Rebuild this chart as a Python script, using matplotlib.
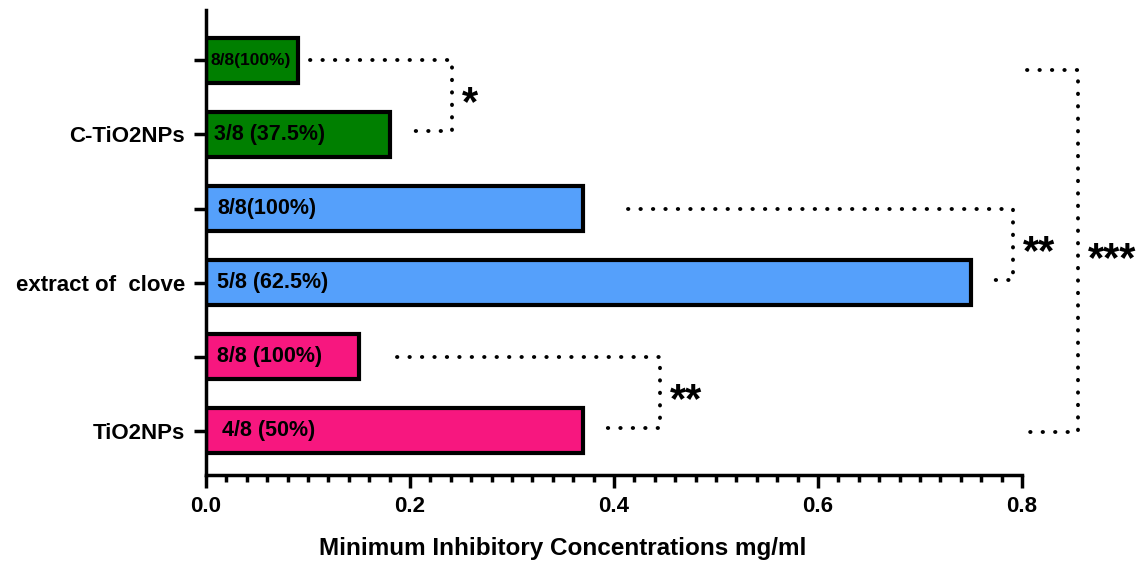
import numpy as np
from matplotlib import pyplot as plt
from matplotlib.ticker import MultipleLocator

plt.rcParams["font.family"] = ["Liberation Sans", "DejaVu Sans"]
plt.rcParams["font.weight"] = "bold"

# bars from bottom to top
mic_values = [0.37, 0.15, 0.75, 0.37, 0.18, 0.09]
bar_labels = ["4/8 (50%)", "8/8 (100%)", "5/8 (62.5%)", "8/8(100%)", "3/8 (37.5%)", "8/8(100%)"]
bar_colors = ["#f7177f", "#f7177f", "#55a0fb", "#55a0fb", "#007f00", "#007f00"]
group_names = ["TiO2NPs", "", "extract of  clove", "", "C-TiO2NPs", ""]

# significance brackets: (top y, bottom y, x of top arm start, x of bottom arm start, x of bracket, text)
brackets = [
    (5, 4.05, 0.102, 0.205, 0.241, "*"),
    (3, 2.03, 0.414, 0.769, 0.791, "**"),
    (1, 0.03, 0.187, 0.391, 0.445, "**"),
    (4.87, -0.02, 0.805, 0.805, 0.855, "***"),
]

fig = plt.figure(figsize=(11.41, 5.62), dpi=100)
ax = fig.add_axes([0.1805, 0.1548, 0.8957 - 0.1805, 0.982 - 0.1548])

pos = np.arange(len(mic_values))
ax.barh(pos, mic_values, height=0.6, color=bar_colors, edgecolor="black", linewidth=3)

label_x = [0.016, 0.011, 0.011, 0.011, 0.008, 0.004]
label_sizes = [15.5, 15.5, 15.5, 15.5, 15.5, 12.5]
for p, lab, lx, fs in zip(pos, bar_labels, label_x, label_sizes):
    ax.text(lx, p, lab, va="center", ha="left", fontsize=fs, fontweight="bold")

dot_style = dict(color="black", lw=2.8, linestyle=(0, (0.1, 3.1)), dash_capstyle="round", clip_on=False)
for ytop, ybot, xtop, xbot, xb, txt in brackets:
    ax.plot([xtop, xb, xb, xbot], [ytop, ytop, ybot, ybot], **dot_style)
    ax.text(xb + 0.01, (ytop + ybot) / 2 - 0.12, txt, va="center", ha="left", fontsize=30,
            fontweight="bold", clip_on=False)

ax.set_xlim(0, 0.8)
ax.set_ylim(-0.6, 5.68)
ax.xaxis.set_major_locator(MultipleLocator(0.2))
ax.xaxis.set_minor_locator(MultipleLocator(0.02))
ax.set_xticklabels([f"{t:.1f}" for t in ax.get_xticks()])
ax.set_yticks(pos)
ax.set_yticklabels(group_names)

for side in ["top", "right"]:
    ax.spines[side].set_visible(False)
for side in ["left", "bottom"]:
    ax.spines[side].set_linewidth(2.5)

ax.tick_params(axis="both", which="major", length=9, width=2.5, labelsize=16, pad=6)
ax.tick_params(axis="x", which="minor", length=5, width=2.5)
for lab in ax.get_xticklabels() + ax.get_yticklabels():
    lab.set_fontweight("bold")

ax.set_xlabel("Minimum Inhibitory Concentrations mg/ml", fontsize=17.5, fontweight="bold")
ax.xaxis.set_label_coords(0.4375, -0.133)

fig.savefig("out.png", dpi=100)
